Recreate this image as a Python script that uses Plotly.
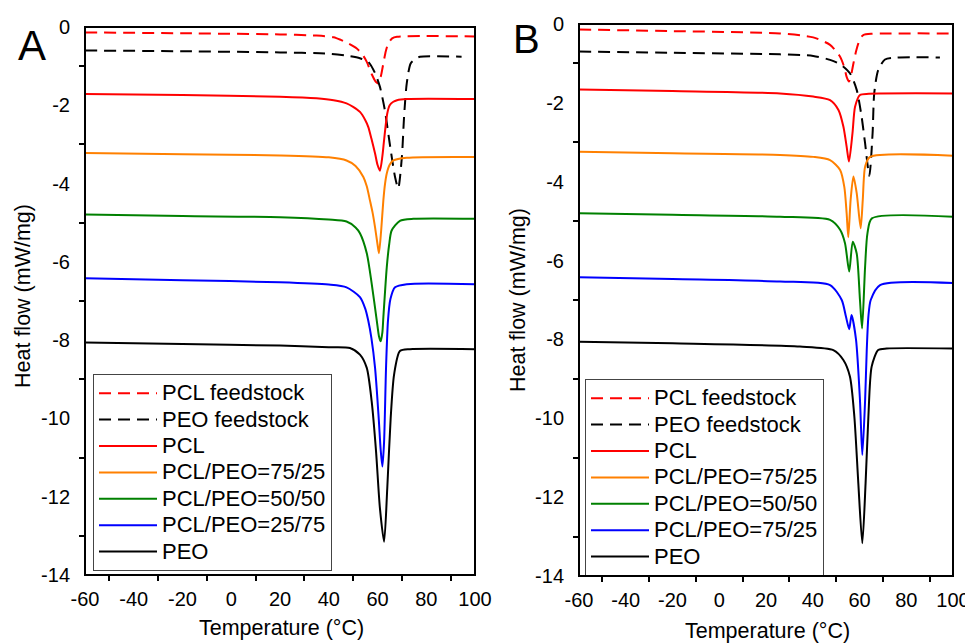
import plotly.graph_objects as go

# ---- panel A ----
a_pcl_feed_T = [-60, -20, 20, 35, 42, 45, 48, 51.5, 54, 55.6, 57.6, 59.3, 60.3, 61.4, 62.4, 63.4, 64.4, 66, 68, 100]
a_pcl_feed_HF = [-0.14, -0.16, -0.19, -0.22, -0.26, -0.33, -0.42, -0.55, -0.72, -0.89, -1.2, -1.4, -1.44, -1.25, -0.93, -0.62, -0.42, -0.29, -0.25, -0.24]

a_peo_feed_T = [-60, -20, 20, 40, 48, 52.8, 56.2, 59, 61, 63, 65, 67.2, 68.5, 70, 70.9, 72, 73.6, 75.5, 77.4, 94.5]
a_peo_feed_HF = [-0.6, -0.62, -0.65, -0.68, -0.74, -0.8, -0.89, -1.18, -1.53, -2.12, -2.97, -3.83, -4.12, -3.32, -2.29, -1.44, -0.93, -0.82, -0.76, -0.76]

a_pcl_T = [-60, -20, 20, 35, 42, 47.3, 50, 52.8, 55, 56.2, 57.5, 59, 60, 61, 62, 62.7, 64, 65, 66.5, 68, 72, 100]
a_pcl_HF = [-1.71, -1.74, -1.78, -1.82, -1.87, -1.95, -2.04, -2.17, -2.38, -2.55, -2.85, -3.23, -3.52, -3.67, -3.3, -2.89, -2.21, -2.0, -1.91, -1.87, -1.84, -1.84]

a_7525_T = [-60, -20, 20, 40, 47.3, 51, 54.2, 55.6, 56.9, 58, 59, 60, 60.6, 61.5, 62.4, 63.1, 63.8, 65, 66.5, 72, 100]
a_7525_HF = [-3.22, -3.25, -3.28, -3.33, -3.41, -3.55, -3.83, -4.07, -4.43, -4.75, -5.12, -5.55, -5.78, -5.2, -4.43, -4.0, -3.74, -3.52, -3.41, -3.34, -3.32]

a_5050_T = [-60, -20, 20, 40, 47.3, 51, 52.8, 55.6, 57.6, 59.7, 60.6, 61.3, 62, 62.4, 63.8, 64.8, 65.8, 69.2, 74.7, 100]
a_5050_HF = [-4.79, -4.83, -4.86, -4.92, -4.97, -5.12, -5.27, -5.78, -6.55, -7.5, -7.9, -8.03, -7.8, -7.42, -6.14, -5.55, -5.2, -4.95, -4.9, -4.9]

a_2575_T = [-60, -20, 20, 40, 47.3, 52.8, 55, 56.2, 57.5, 59, 60.5, 61.3, 62, 62.7, 63.5, 64.3, 65.3, 67.2, 72, 100]
a_2575_HF = [-6.42, -6.47, -6.52, -6.58, -6.65, -6.9, -7.2, -7.5, -7.95, -8.71, -10.0, -10.8, -11.23, -10.6, -8.71, -7.5, -6.95, -6.65, -6.57, -6.57]

a_peo_T = [-60, -20, 20, 40, 48.7, 52.8, 55.6, 57.6, 59.4, 61, 62.7, 64, 65.4, 66.8, 69.2, 73.3, 100]
a_peo_HF = [-8.06, -8.1, -8.14, -8.18, -8.2, -8.37, -8.71, -9.56, -10.84, -12.3, -13.15, -11.79, -10.0, -8.88, -8.28, -8.23, -8.23]

# ---- panel B ----
b_pcl_feed_T = [-60, -20, 26, 40.2, 47.4, 51.7, 53.5, 54.5, 55.5, 56.4, 57.4, 58.5, 59.5, 60.5, 61.6, 65, 100]
b_pcl_feed_HF = [-0.14, -0.18, -0.24, -0.34, -0.53, -0.83, -1.1, -1.34, -1.46, -1.3, -1.0, -0.7, -0.49, -0.35, -0.28, -0.25, -0.24]

b_peo_feed_T = [-60, -20, 26, 40.2, 47.4, 51.7, 55.9, 58.8, 60.9, 62.4, 64.2, 65.6, 66.3, 68, 70.9, 75.9, 94.4]
b_peo_feed_HF = [-0.7, -0.73, -0.77, -0.81, -0.91, -1.02, -1.25, -1.67, -2.35, -3.03, -3.85, -2.77, -1.76, -1.17, -0.9, -0.85, -0.85]

b_pcl_T = [-60, -20, 26, 40.2, 47.4, 51, 53.1, 54.5, 55.5, 57, 58.1, 60.2, 64, 100]
b_pcl_HF = [-1.66, -1.7, -1.76, -1.84, -1.93, -2.18, -2.6, -3.11, -3.49, -2.77, -2.1, -1.8, -1.77, -1.76]

b_7525_T = [-60, -20, 26, 40.2, 47.4, 51.7, 53.5, 54.5, 55.2, 56.2, 57.4, 58.8, 60.5, 61.4, 62.4, 64.5, 100]
b_7525_HF = [-3.24, -3.28, -3.32, -3.37, -3.45, -3.7, -4.13, -4.8, -5.41, -4.46, -3.87, -4.29, -5.18, -4.46, -3.62, -3.37, -3.34]

b_5050_T = [-60, -20, 26, 47.4, 51.7, 53.8, 55.6, 57.1, 58.8, 60.2, 61.1, 62.4, 63.4, 65.3, 100]
b_5050_HF = [-4.8, -4.84, -4.89, -4.97, -5.22, -5.56, -6.28, -5.52, -5.82, -7.0, -7.72, -6.15, -5.31, -4.93, -4.89]

b_2575_T = [-60, -20, 26, 47.4, 52.4, 54.2, 55.6, 56.6, 58.5, 60.2, 61.2, 62.4, 63.1, 63.8, 64.8, 68.8, 100]
b_2575_HF = [-6.42, -6.47, -6.53, -6.62, -7.0, -7.42, -7.74, -7.38, -8.0, -9.54, -10.93, -9.54, -8.27, -7.42, -7.0, -6.62, -6.57]

b_peo_T = [-60, -20, 34.5, 48.8, 53.1, 55.9, 57.8, 59.5, 61.2, 62.6, 63.8, 65.2, 68, 71.6, 100]
b_peo_HF = [-8.06, -8.1, -8.18, -8.27, -8.52, -8.94, -9.96, -11.65, -13.17, -11.65, -9.96, -8.69, -8.27, -8.23, -8.23]

# legend names (panel B repeats 75/25 for the blue curve, as in the original)
names_a = ["PCL feedstock", "PEO feedstock", "PCL", "PCL/PEO=75/25", "PCL/PEO=50/50", "PCL/PEO=25/75", "PEO"]
names_b = ["PCL feedstock", "PEO feedstock", "PCL", "PCL/PEO=75/25", "PCL/PEO=50/50", "PCL/PEO=75/25", "PEO"]

x_range = [-60, 100]
y_range = [-14, 0]
x_ticks = [-60, -40, -20, 0, 20, 40, 60, 80, 100]
x_ticktext = ["-60", "-40", "-20", "0", "20", "40", "60", "80", "100"]
x_minor = [-50, -30, -10, 10, 30, 50, 70, 90]
y_ticks = [0, -2, -4, -6, -8, -10, -12, -14]
y_ticktext = ["0", "-2", "-4", "-6", "-8", "-10", "-12", "-14"]
y_minor = [-1, -3, -5, -7, -9, -11, -13]

colors = ["#ff0000", "#000000", "#ff0000", "#ff8000", "#008000", "#0000ff", "#000000"]
dashes = ["12px,7px", "12px,7px", "solid", "solid", "solid", "solid", "solid"]

FONT = "Liberation Sans, Arial, sans-serif"
# the page body adds an 8px margin, so the figure is 8px smaller and every
# reference pixel position is shifted by 8
OFF = 8
W, H = 973 - OFF, 644 - OFF


def fx(px):
    return (px - OFF) / W


def fy(py):
    return 1 - (py - OFF) / H


curves_a = [(a_pcl_feed_T, a_pcl_feed_HF), (a_peo_feed_T, a_peo_feed_HF), (a_pcl_T, a_pcl_HF),
            (a_7525_T, a_7525_HF), (a_5050_T, a_5050_HF), (a_2575_T, a_2575_HF), (a_peo_T, a_peo_HF)]
curves_b = [(b_pcl_feed_T, b_pcl_feed_HF), (b_peo_feed_T, b_peo_feed_HF), (b_pcl_T, b_pcl_HF),
            (b_7525_T, b_7525_HF), (b_5050_T, b_5050_HF), (b_2575_T, b_2575_HF), (b_peo_T, b_peo_HF)]


def legend_name(s):
    # bigger text than the legend font, so rows stay as tight as in the original
    return '<span style="font-size:22px">' + s + "</span>"


fig = go.Figure()
for i, (t, hf) in enumerate(curves_a):
    fig.add_trace(go.Scatter(x=t, y=hf, mode="lines", name=legend_name(names_a[i]), xaxis="x", yaxis="y",
                             legend="legend",
                             line=dict(color=colors[i], width=2, dash=dashes[i], shape="spline", smoothing=0.7)))
for i, (t, hf) in enumerate(curves_b):
    fig.add_trace(go.Scatter(x=t, y=hf, mode="lines", name=legend_name(names_b[i]), xaxis="x2", yaxis="y2",
                             legend="legend2",
                             line=dict(color=colors[i], width=2, dash=dashes[i], shape="spline", smoothing=0.7)))

tick_font = dict(family=FONT, size=20, color="black")


def x_axis(dom, anchor, main_vals, minor_vals, ln, labels, overlay=None):
    ax = dict(domain=dom, anchor=anchor, range=x_range, tickmode="array", tickvals=main_vals,
              ticktext=x_ticktext if labels else None, ticks="outside", ticklen=8,
              tickcolor="rgba(0,0,0,0)", ticklabelstandoff=-2, showticklabels=labels,
              showline=False, showgrid=False, zeroline=False, automargin=False, tickfont=tick_font,
              minor=dict(tickmode="array", tickvals=minor_vals, ticks="outside", ticklen=ln,
                         tickwidth=2, tickcolor="black"))
    if overlay:
        ax["overlaying"] = overlay
    return ax


def y_axis(dom, anchor, main_vals, minor_vals, ln, labels, overlay=None):
    ax = dict(domain=dom, anchor=anchor, range=y_range, tickmode="array", tickvals=main_vals,
              ticktext=y_ticktext if labels else None, ticks="outside", ticklen=8,
              tickcolor="rgba(0,0,0,0)", ticklabelstandoff=2, showticklabels=labels,
              showline=False, showgrid=False, zeroline=False, automargin=False, tickfont=tick_font,
              minor=dict(tickmode="array", tickvals=minor_vals, ticks="outside", ticklen=ln,
                         tickwidth=2, tickcolor="black"))
    if overlay:
        ax["overlaying"] = overlay
    return ax


legend_style = dict(font=dict(family=FONT, size=18, color="black"), bgcolor="white",
                    bordercolor="#444444", borderwidth=1, xanchor="left", yanchor="top",
                    tracegroupgap=0, itemwidth=58)

xa_dom, ya_dom = [fx(85), fx(475)], [fy(575), fy(27)]
xb_dom, yb_dom = [fx(579), fx(953)], [fy(576), fy(24)]

fig.update_layout(
    width=W, height=H,
    margin=dict(l=0, r=0, t=0, b=0, autoexpand=False),
    paper_bgcolor="white", plot_bgcolor="white",
    # main axes: labels at the major values, short ticks at the minor values
    xaxis=x_axis(xa_dom, "y", x_ticks, x_minor, 5, True),
    yaxis=y_axis(ya_dom, "x", y_ticks, y_minor, 5, True),
    xaxis2=x_axis(xb_dom, "y2", x_ticks, x_minor, 5, True),
    yaxis2=y_axis(yb_dom, "x2", y_ticks, y_minor, 5, True),
    # twin axes: longer ticks at the major values
    xaxis3=x_axis(xa_dom, "y", x_minor, x_ticks, 8, False, "x"),
    yaxis3=y_axis(ya_dom, "x", y_minor, y_ticks, 8, False, "y"),
    xaxis4=x_axis(xb_dom, "y2", x_minor, x_ticks, 8, False, "x2"),
    yaxis4=y_axis(yb_dom, "x2", y_minor, y_ticks, 8, False, "y2"),
    legend=dict(x=fx(93), y=fy(374), **legend_style),
    legend2=dict(x=fx(585), y=fy(379), **legend_style),
    showlegend=True,
)

# plot frames: empty boxes sized to each plotting area
for xa, ya, wpx, hpx in [("x", "y", 475 - 85, 575 - 27), ("x2", "y2", 953 - 579, 576 - 24)]:
    fig.add_annotation(text=" ", xref=xa + " domain", yref=ya + " domain", x=0.5, y=0.5,
                       xanchor="center", yanchor="middle", showarrow=False,
                       width=wpx - 2, height=hpx - 2, borderpad=0, borderwidth=2,
                       bordercolor="black")

title_font = dict(family=FONT, size=21.5, color="black")
# panel letters and axis titles
ann = dict(xref="paper", yref="paper", showarrow=False, xanchor="center", yanchor="middle")
fig.add_annotation(text="A", x=fx(32), y=fy(45), font=dict(family=FONT, size=42, color="black"), **ann)
fig.add_annotation(text="B", x=fx(526), y=fy(39), font=dict(family=FONT, size=40, color="black"), **ann)
fig.add_annotation(text="Temperature (°C)", x=fx(281), y=fy(628), font=title_font, **ann)
fig.add_annotation(text="Temperature (°C)", x=fx(767), y=fy(631), font=title_font, **ann)
fig.add_annotation(text="Heat flow (mW/mg)", x=fx(23), y=fy(296), textangle=-90, font=title_font, **ann)
fig.add_annotation(text="Heat flow (mW/mg)", x=fx(518), y=fy(300), textangle=-90, font=title_font, **ann)

fig.write_html("out.html")
